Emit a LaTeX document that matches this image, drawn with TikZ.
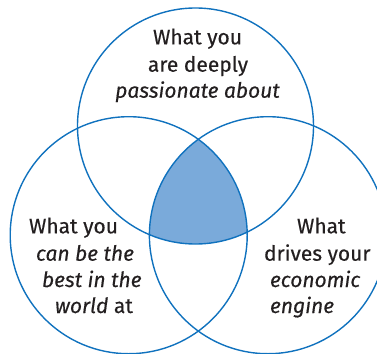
\documentclass[tikz,border=0pt]{standalone}
\usepackage{fontspec}
\setmainfont{Fira Sans}[FakeBold=0.4,BoldFont=Fira Sans,BoldItalicFont=Fira Sans Italic]
\definecolor{ringblue}{RGB}{16,114,190}
\definecolor{coreblue}{RGB}{122,170,218}
\definecolor{inkgray}{RGB}{35,31,32}
\begin{document}
\begin{tikzpicture}[x=1pt,y=-1pt,
  ring/.style={draw=ringblue,line width=1.4pt},
  lbl/.style={inner sep=0pt,outer sep=0pt,text=inkgray,font=\fontsize{21}{25}\selectfont\bfseries}]
\useasboundingbox (0,0) rectangle (377,353);
\coordinate (ct) at (195.5,126);
\coordinate (cl) at (128.7,235.2);
\coordinate (cr) at (267.9,235.2);
\begin{scope}
  \clip (ct) circle[radius=118];
  \clip (cl) circle[radius=118.5];
  \fill[coreblue] (cr) circle[radius=118.5];
\end{scope}
\draw[ring] (ct) circle[radius=118];
\draw[ring] (cl) circle[radius=118.5];
\draw[ring] (cr) circle[radius=118.5];
% top
\node[lbl,anchor=base] (t1) at (197.5,44.3) {What you};
\node[lbl,anchor=base] (t2) at (198,71.7) {are deeply};
\node[lbl,anchor=base] (t3) at (197.5,97.7) {\itshape passionate about};
% left
\node[lbl,anchor=base west] (l1) at (29,233.3) {What you};
\node[lbl,anchor=base west] (l2) at (36,260.7) {\itshape can be the};
\node[lbl,anchor=base west] (l3) at (42,287) {\itshape best in the};
\node[lbl,anchor=base west] (l4) at (55,313) {\itshape world\/\upshape{} at};
% right
\node[lbl,anchor=base west] (r1) at (297,233.3) {What};
\node[lbl,anchor=base west] (r2) at (264,260.7) {drives your};
\node[lbl,anchor=base west] (r3) at (270,287) {\itshape economic};
\node[lbl,anchor=base west] (r4) at (270,313) {\itshape engine};
\end{tikzpicture}
\end{document}
